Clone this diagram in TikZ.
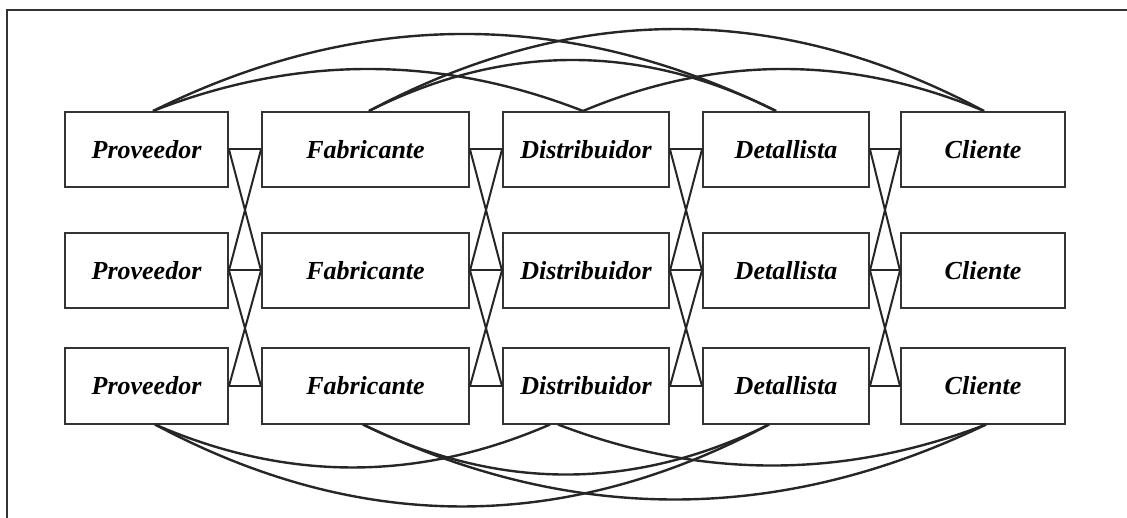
\documentclass[tikz,border=0pt]{standalone}
\usepackage{fontspec}
\setmainfont{Liberation Serif}
\usetikzlibrary{calc}
\begin{document}
\begin{tikzpicture}[x=1pt,y=-1pt,
  box/.style={draw=black!80, line width=2pt, minimum height=75pt, inner sep=0pt,
    font=\fontsize{26}{30}\selectfont\bfseries\itshape},
  link/.style={draw=black!85, line width=2pt},
  arc/.style={draw=black!85, line width=2.4pt},
  frame/.style={draw=black!80, line width=2pt}]
\useasboundingbox (0,0) rectangle (1127,518);
% open frame: top and left edges only
\draw[frame] (1127,10) -- (7,10) -- (7,518);

% three parallel chains of the supply network
\foreach \r/\y in {1/149.5,2/270.5,3/386}{
  \node[box, minimum width=163pt] (P\r) at (146.5,\y) {Proveedor};
  \node[box, minimum width=207pt] (F\r) at (365.5,\y) {Fabricante};
  \node[box, minimum width=166pt] (D\r) at (586,\y) {Distribuidor};
  \node[box, minimum width=166pt] (R\r) at (786,\y) {Detallista};
  \node[box, minimum width=164pt] (C\r) at (983,\y) {Cliente};
}

% links between neighbouring stages: straight and crossed
\foreach \a/\b in {P/F,F/D,D/R,R/C}{
  \foreach \i in {1,2,3} \draw[link] (\a\i.east) -- (\b\i.west);
  \foreach \i/\j in {1/2,2/3}{
    \draw[link] (\a\i.east) -- (\b\j.west);
    \draw[link] (\a\j.east) -- (\b\i.west);
  }
}

% attachment points of the long-range links
\coordinate (Pt) at ($(P1.north)+(6.5,0)$);
\coordinate (Ft) at ($(F1.north)+(3.5,0)$);
\coordinate (Dt) at ($(D1.north)+(-3,0)$);
\coordinate (Rt) at ($(R1.north)+(-10,0)$);
\coordinate (Ct) at ($(C1.north)+(1,0)$);
\coordinate (Pb) at ($(P3.south)+(8.5,0)$);
\coordinate (Fb) at ($(F3.south)+(-2.5,0)$);
\coordinate (Dbl) at ($(D3.south)+(-36,0)$);
\coordinate (Dbr) at ($(D3.south)+(-28,0)$);
\coordinate (Rb) at ($(R3.south)+(-17,0)$);
\coordinate (Cb) at ($(C3.south)+(3,0)$);

% links skipping stages, above the top chain
\draw[arc] (Pt) .. controls +(143.3,-56) and +(-143.3,-56) .. (Dt);
\draw[arc] (Pt) .. controls +(207.7,-102.7) and +(-207.7,-102.7) .. (Rt);
\draw[arc] (Ft) .. controls +(135.7,-68) and +(-135.7,-68) .. (Rt);
\draw[arc] (Ft) .. controls +(205,-109.3) and +(-205,-109.3) .. (Ct);
\draw[arc] (Dt) .. controls +(133.7,-56) and +(-133.7,-56) .. (Ct);

% links skipping stages, below the bottom chain
\draw[arc] (Pb) .. controls +(131.7,57.3) and +(-131.7,57.3) .. (Dbl);
\draw[arc] (Pb) .. controls +(204.7,109.3) and +(-204.7,109.3) .. (Rb);
\draw[arc] (Fb) .. controls +(135.3,66.7) and +(-135.3,66.7) .. (Rb);
\draw[arc] (Fb) .. controls +(207.7,100) and +(-207.7,100) .. (Cb);
\draw[arc] (Dbr) .. controls +(142.7,54.7) and +(-142.7,54.7) .. (Cb);
\end{tikzpicture}
\end{document}
